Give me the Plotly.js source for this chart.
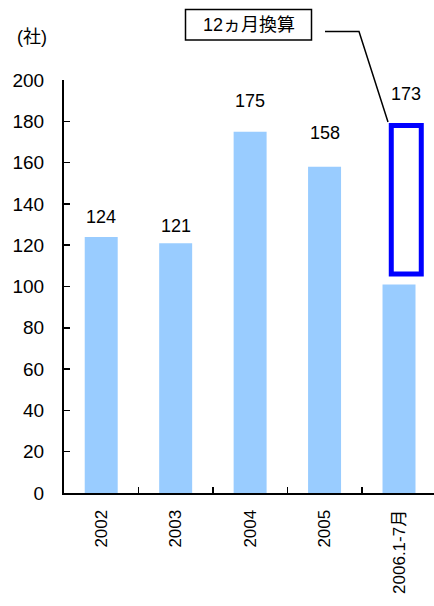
<!DOCTYPE html>
<html>
<head>
<meta charset="utf-8">
<script src="https://cdn.plot.ly/plotly-3.0.1.min.js"></script>
<style>html,body{margin:0;padding:0;background:#fff;}#chart{width:434px;height:606px;}</style>
</head>
<body>
<div id="chart"></div>
<script>
// ---- data ----
const categories = ['2002', '2003', '2004', '2005', '2006.1-7月'];
const companies = [124, 121, 175, 158, 101];
const annualized = [null, null, null, null, 173];   // 12ヵ月換算
const unitLabel = '(社)';
const calloutText = '12ヵ月換算';
const yTicks = [0, 20, 40, 60, 80, 100, 120, 140, 160, 180, 200];

// ---- styles / layout helpers ----
const FONT = 'Liberation Sans, Arial, sans-serif';
const CJK = 'Liberation Sans, Noto Sans CJK JP, sans-serif';
const W = 434, H = 606;
const M = {l: 64, r: 0, t: 80, b: 113};
const xRange = [-0.5, 4.47];
const pw = W - M.l - M.r, ph = H - M.t - M.b;
const px2x = p => (p - M.l) / pw;
const py2y = p => (H - M.b - p) / ph;
const rectGap = 5;
const labelShift = [20, 17, 31, 34, 31];

const last = categories.length - 1;
const rectBase = companies[last] + rectGap;
const rectHeight = annualized[last] - companies[last];
const rectOffset = -0.104, rectWidth = 0.403;

const traces = [
  {
    type: 'bar', x: categories, y: companies,
    marker: {color: '#99CCFF', line: {width: 0}},
    width: 0.443, hoverinfo: 'skip'
  },
  {
    type: 'bar', x: [categories[last]], y: [rectHeight], base: [rectBase],
    width: [rectWidth], offset: [rectOffset],
    marker: {color: 'rgba(255,255,255,0)', line: {color: '#0000FF', width: 5}},
    hoverinfo: 'skip'
  }
];

const annotations = companies.map((v, i) => ({
  x: i, y: v, xref: 'x', yref: 'y',
  text: String(v), showarrow: false, xanchor: 'center', yanchor: 'middle',
  yshift: labelShift[i], font: {family: FONT, size: 18, color: '#000'}
}));
annotations[last] = {
  x: last + rectOffset + rectWidth / 2, y: rectBase + rectHeight, xref: 'x', yref: 'y',
  text: String(annualized[last]), showarrow: false, xanchor: 'center', yanchor: 'middle',
  yshift: labelShift[last], font: {family: FONT, size: 18, color: '#000'}
};
annotations.push({
  x: px2x(32), y: py2y(37), xref: 'paper', yref: 'paper',
  xanchor: 'center', yanchor: 'middle',
  text: unitLabel, showarrow: false, font: {family: CJK, size: 18, color: '#000'}
});
annotations.push({
  x: px2x(248.5), y: py2y(25), xref: 'paper', yref: 'paper',
  xanchor: 'center', yanchor: 'middle',
  text: calloutText, showarrow: false, font: {family: CJK, size: 18, color: '#000'}
});

const shapes = [
  {type: 'rect', xref: 'paper', yref: 'paper',
   x0: px2x(185.5), x1: px2x(311.5), y0: py2y(9.5), y1: py2y(40),
   line: {color: '#000', width: 1.5}, fillcolor: 'rgba(0,0,0,0)'},
  {type: 'path', xref: 'paper', yref: 'paper',
   path: `M ${px2x(325)} ${py2y(31.5)} L ${px2x(359)} ${py2y(31.5)} L ${px2x(388)} ${py2y(122)}`,
   line: {color: '#000', width: 1.5}}
];

const layout = {
  width: W, height: H, margin: M,
  paper_bgcolor: '#fff', plot_bgcolor: '#fff',
  showlegend: false, barmode: 'overlay',
  font: {family: FONT, size: 18, color: '#000'},
  xaxis: {
    type: 'category', range: xRange, showgrid: false, zeroline: false,
    showline: true, linecolor: '#000', linewidth: 2,
    ticks: 'inside', tickson: 'boundaries', ticklen: 6, tickwidth: 1.5, tickcolor: '#000',
    tickangle: -90, ticklabelstandoff: 8,
    tickfont: {family: CJK, size: 17, color: '#000'}
  },
  yaxis: {
    range: [0, 200], tickvals: yTicks, ticktext: yTicks.map(String),
    showgrid: false, zeroline: false,
    showline: true, linecolor: '#000', linewidth: 2,
    ticks: 'inside', ticklen: 6, tickwidth: 1.5, tickcolor: '#000',
    ticklabelstandoff: 14,
    tickfont: {family: FONT, size: 19, color: '#000'}
  },
  annotations: annotations, shapes: shapes
};

Plotly.newPlot('chart', traces, layout, {staticPlot: true, displayModeBar: false});
</script>
</body>
</html>
